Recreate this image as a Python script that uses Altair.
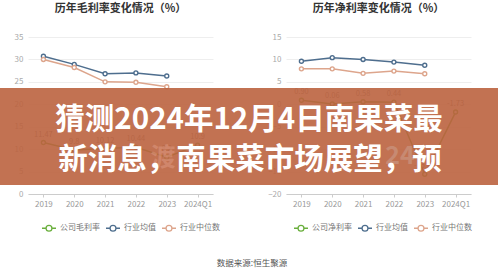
import altair as alt
import pandas as pd

years = ["2019", "2020", "2021", "2022", "2023", "2024Q1"]

gross_series = ["公司毛利率", "行业均值", "行业中位数"]
gross_company = [11.47, 9.80, 10.12, 10.44, 8.20, 10.90]
gross_company_labels = ["11.47", "9.8", "10.12", "10.44", "8.2", "10.9"]
gross_avg = [30.7, 28.9, 26.8, 27.0, 26.3]
gross_median = [30.0, 28.2, 25.0, 24.9, 23.9]
gross_ticks = [0, 5, 10, 15, 20, 25, 30, 35]

net_series = ["公司净利率", "行业均值", "行业中位数"]
net_company = [0.90, 0.06, 0.58, 0.44, -15.60, -1.73]
net_company_labels = ["0.90", "0.06", "0.58", "0.44", "-15.60", "-1.73"]
net_avg = [9.6, 10.4, 10.0, 9.4, 8.7]
net_median = [7.9, 7.9, 6.9, 7.4, 6.8]
net_ticks = [-20, -15, -10, -5, 0, 5, 10, 15]

titles = ["历年毛利率变化情况（%）", "历年净利率变化情况（%）"]
banner_lines = ["猜测2024年12月4日南果菜最", "新消息，南果菜市场展望，预"]
ghost_texts = ["渡", "24"]
source_text = ["数据来源:恒生聚源"]

FONT = "Noto Sans CJK SC"
GREEN, BLUE, PINK = "#6AAF3D", "#4E6E8E", "#DDA58C"
BROWN = "#BB633F"
W, H = 185, 157
SPACING = 73
RX0 = 28 + W + SPACING  # right plot x offset in page

LEGEND_SYMBOL = ("M-1,0L-0.42,0M0.42,0L1,0M0.42,0A0.42,0.42,0,1,1,-0.42,0"
                 "A0.42,0.42,0,1,1,0.42,0")


def panel(title, names, company, labels, avg, median, ticks, legend_x):
    rows = []
    for yr, v, l in zip(years, company, labels):
        rows.append(dict(year=yr, series=names[0], value=v, label=l))
    for yr, v in zip(years, avg):
        rows.append(dict(year=yr, series=names[1], value=v, label=""))
    for yr, v in zip(years, median):
        rows.append(dict(year=yr, series=names[2], value=v, label=""))
    df = pd.DataFrame(rows)

    x = alt.X("year:N", sort=years,
              scale=alt.Scale(domain=years, type="point", padding=0.5),
              axis=alt.Axis(title=None, labelAngle=0, labelColor="#999",
                            labelFontSize=8, labelFont=FONT, domainColor="#ccc",
                            tickColor="#ccc", tickSize=3, labelPadding=3))
    y = alt.Y("value:Q",
              scale=alt.Scale(domain=[ticks[0], ticks[-1]], nice=False, zero=False),
              axis=alt.Axis(title=None, values=ticks, labelColor="#aaa",
                            labelFontSize=8, labelFont=FONT, grid=True,
                            gridColor="#eee", domain=False, ticks=False,
                            labelPadding=5, minExtent=28, maxExtent=28))
    color = alt.Color("series:N",
                      scale=alt.Scale(domain=names, range=[GREEN, BLUE, PINK]),
                      legend=alt.Legend(orient="none", legendX=legend_x, legendY=183,
                                        direction="horizontal", title=None,
                                        symbolType=LEGEND_SYMBOL, symbolSize=196,
                                        symbolStrokeWidth=1.3, symbolFillColor="white",
                                        labelFontSize=8, labelFont=FONT,
                                        labelColor="#777", columnPadding=3,
                                        labelOffset=3))
    base = alt.Chart(df).encode(x=x, y=y, color=color)
    lines = base.mark_line(strokeWidth=1.5)
    pts = base.mark_point(filled=False, fill="white", size=16, strokeWidth=1.4, opacity=1)
    txt = alt.Chart(df).transform_filter(alt.datum.label != "").mark_text(
        dy=-8, fontSize=7.5, color="#888", font=FONT).encode(x=x, y=y, text="label:N")
    return (lines + pts + txt).properties(
        width=W, height=H,
        title=alt.TitleParams(text=title, fontSize=11, fontWeight="bold",
                              color="#333", anchor="middle", offset=19, font=FONT))


left = panel(titles[0], gross_series, gross_company, gross_company_labels,
             gross_avg, gross_median, gross_ticks, 13)
right = panel(titles[1], net_series, net_company, net_company_labels,
              net_avg, net_median, net_ticks, 7)

one = pd.DataFrame({"t": [0]})
rect = alt.Chart(one).mark_rect(color=BROWN, opacity=0.9).encode(
    x=alt.value(-RX0), x2=alt.value(498 - RX0), y=alt.value(51), y2=alt.value(148))
ghost1 = alt.Chart(pd.DataFrame({"t": [ghost_texts[0]]})).mark_text(
    font=FONT, fontSize=25, fontWeight="bold", color="#E2A08A", opacity=0.45).encode(
    x=alt.value(163 - RX0), y=alt.value(121), text="t:N")
ghost2 = alt.Chart(pd.DataFrame({"t": [ghost_texts[1]]})).mark_text(
    font=FONT, fontSize=25, fontWeight="bold", color="#CDA392", opacity=0.5).encode(
    x=alt.value(400 - RX0), y=alt.value(119), text="t:N")
line1 = alt.Chart(pd.DataFrame({"t": [banner_lines[0]]})).mark_text(
    font=FONT, fontSize=29.5, fontWeight="bold", color="white", baseline="middle").encode(
    x=alt.value(249 - RX0), y=alt.value(83), text="t:N")
line2 = alt.Chart(pd.DataFrame({"t": [banner_lines[1]]})).mark_text(
    font=FONT, fontSize=29.5, fontWeight="bold", color="white", baseline="middle").encode(
    x=alt.value(250 - RX0), y=alt.value(123), text="t:N")
src = alt.Chart(pd.DataFrame({"t": source_text})).mark_text(
    font=FONT, fontSize=8.5, color="#555", baseline="middle").encode(
    x=alt.value(252 - RX0), y=alt.value(226), text="t:N")

right = alt.layer(right, rect, ghost1, ghost2, line1, line2, src)

chart = alt.hconcat(left, right, spacing=SPACING, bounds="flush").resolve_scale(
    color="independent").properties(
    padding={"left": 0, "top": 3, "right": 0, "bottom": 0},
    background="white").configure_view(stroke=None)

chart.save("out.html", embed_options={"renderer": "svg", "actions": False})
